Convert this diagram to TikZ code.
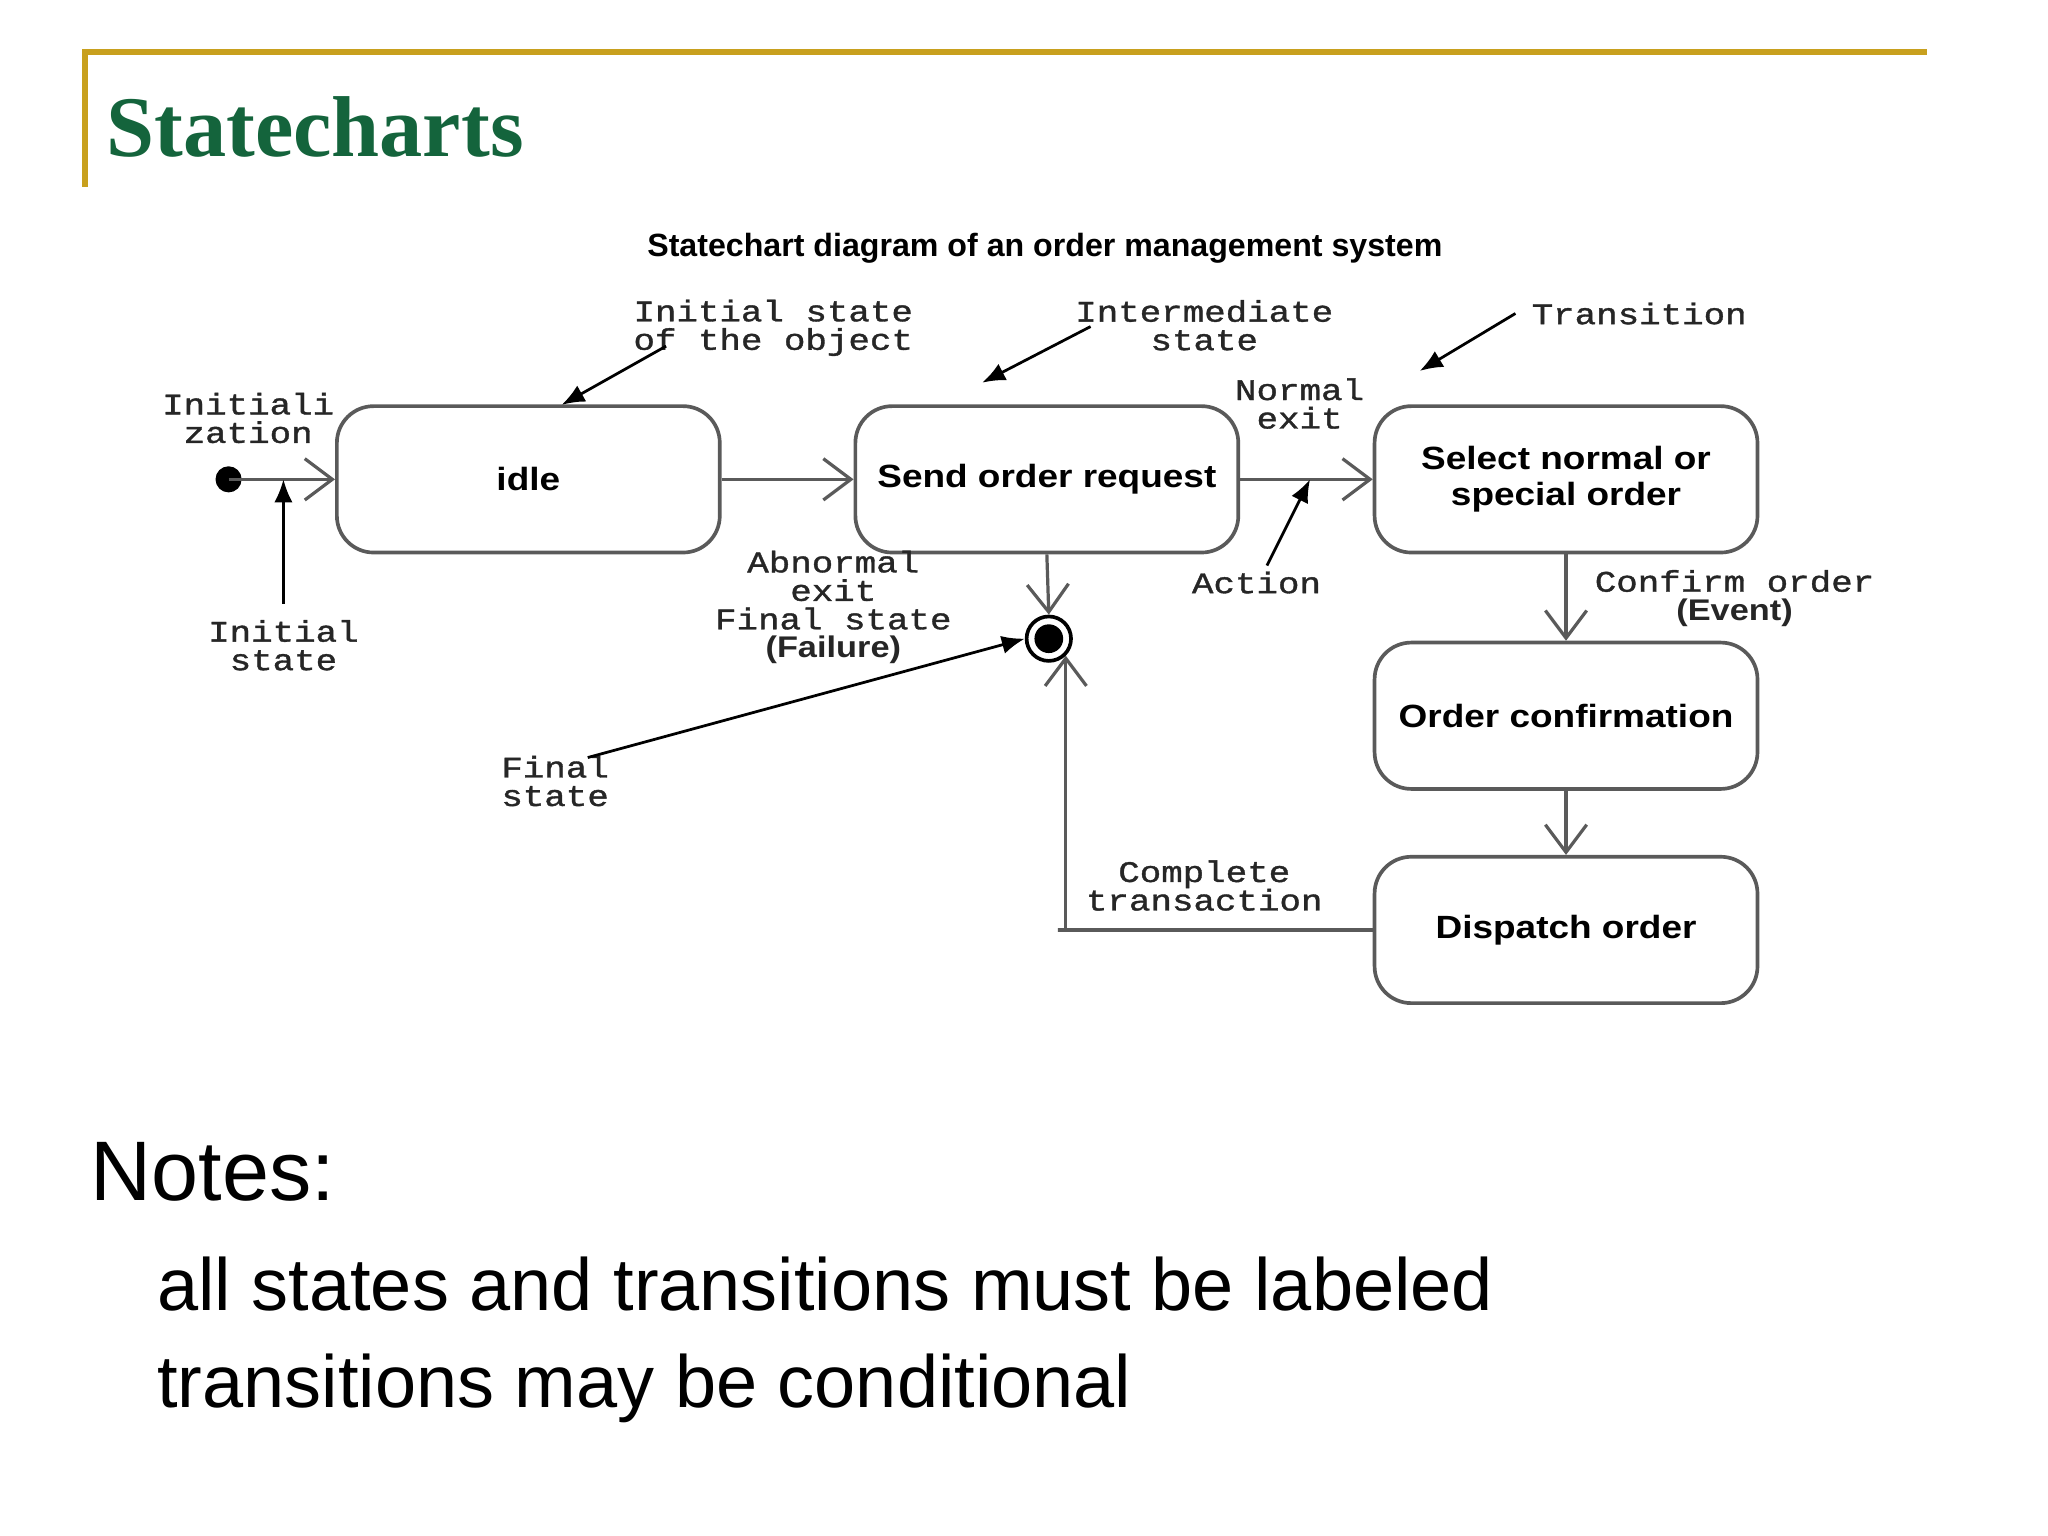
\documentclass[tikz,border=0pt]{standalone}
\usepackage{fontspec}
\setmainfont{Liberation Serif}
\setsansfont{Liberation Sans}
\setmonofont{Liberation Mono}
\newfontfamily\labfont[FakeStretch=1.2,FakeBold=1.2]{Liberation Mono}
\newfontfamily\stfont[FakeStretch=1.15]{Liberation Sans Bold}
\usetikzlibrary{arrows.meta}
\definecolor{gold}{RGB}{200,160,30}
\definecolor{titlegreen}{RGB}{20,100,60}
\definecolor{ln}{RGB}{90,90,90}
\begin{document}
\begin{tikzpicture}[x=0.01cm,y=-0.01cm,
  st/.style={draw=ln,line width=0.8pt,rounded corners=8pt,minimum width=2.93cm,minimum height=1.12cm,font=\stfont\fontsize{7}{7.8}\selectfont,align=center},
  lab/.style={font=\labfont\fontsize{6.5}{6.2}\selectfont,align=center,text=black!85},
  tr/.style={draw=ln,line width=0.7pt,-{Straight Barb[length=6pt,width=9pt]}},
  pt/.style={draw=black,line width=0.6pt,-{Latex[length=5pt,width=4pt]}}]
\useasboundingbox (0,0) rectangle (1568,1176);
\draw[gold,line width=1.2pt] (65,143) -- (65,40) -- (1475,40);
\node[anchor=west,font=\bfseries\fontsize{18.8}{23}\selectfont,text=titlegreen] (title) at (69,97) {Statecharts};
\node[font=\sffamily\bfseries\fontsize{7}{8}\selectfont] (cap) at (800,190) {Statechart diagram of an order management system};
\node[st] (idle) at (404.5,367) {idle};
\node[st] (send) at (801.5,367) {Send order request};
\node[st] (sel) at (1199,367) {Select normal or\\special order};
\node[st] (conf) at (1199,548) {Order confirmation};
\node[st] (disp) at (1199,712) {Dispatch order};
\fill (175,367) circle (10) coordinate (init);
\node[circle,draw=black,line width=0.8pt,minimum size=0.34cm,inner sep=0] (fin) at (803,489) {};
\fill (803,489) circle (11);
\draw[tr] (init) -- (idle.west);
\draw[tr] (idle.east) -- (send.west);
\draw[tr] (send.east) -- (sel.west);
\draw[tr] (send.south) -- (fin.north);
\draw[tr] (sel.south) -- (conf.north);
\draw[tr] (conf.south) -- (disp.north);
\coordinate (cc) at (810,712);
\draw[tr] (disp.west) -- (cc) -- (fin.south east|-cc) -- (fin.south east);
\node[lab] (l1) at (190,320) {Initiali\\zation};
\node[lab] (l2) at (217,494) {Initial\\state};
\draw[pt] (l2.north) -- (217,367);
\node[lab] (l3) at (592,251) {Initial state\\of the object};
\draw[pt] (510,265) -- (430,310);
\node[lab] (l4) at (922,249) {Intermediate\\state};
\draw[pt] (835,250) -- (752,293);
\node[lab] (l5) at (1255,240) {Transition};
\draw[pt] (l5.west) -- (1087,284);
\node[lab] (l6) at (995,309) {Normal\\exit};
\node[lab] (l7) at (962,446) {Action};
\draw[pt] (970,433) -- (1003,367);
\node[lab] (l8) at (638,465) {Abnormal\\exit\\Final state\\{\stfont(Failure)}};
\node[lab] (l9) at (425,598) {Final\\state};
\draw[pt] (450,580) -- (fin.west);
\node[lab] (l10) at (1328,458) {Confirm order\\{\stfont(Event)}};
\node[lab] (l11) at (922,678) {Complete\\transaction};
\node[anchor=west,font=\sffamily\fontsize{18.4}{20}\selectfont] (notes) at (57,897) {Notes:};
\node[anchor=west,font=\sffamily\fontsize{16.1}{18}\selectfont] (n1) at (108,983) {all states and transitions must be labeled};
\node[anchor=west,font=\sffamily\fontsize{16.1}{18}\selectfont] (n2) at (108,1063) {transitions may be conditional};
\end{tikzpicture}
\end{document}
